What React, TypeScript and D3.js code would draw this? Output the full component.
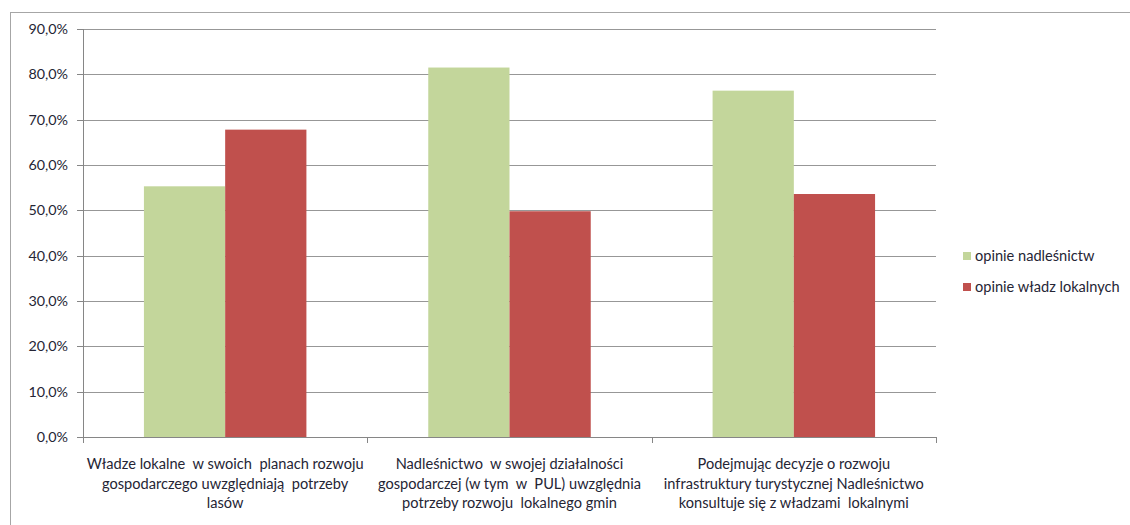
import React from "react";
import * as d3 from "d3";

const categories: string[][] = [
  ["Władze lokalne  w swoich  planach rozwoju", "gospodarczego uwzględniają  potrzeby", "lasów"],
  ["Nadleśnictwo  w swojej działalności", "gospodarczej (w tym  w  PUL) uwzględnia", "potrzeby rozwoju  lokalnego gmin"],
  ["Podejmując decyzje o rozwoju", "infrastruktury turystycznej Nadleśnictwo", "konsultuje się z władzami  lokalnymi"],
];
const seriesNames = ["opinie nadleśnictw", "opinie władz lokalnych"];
const seriesColors = ["#c3d69b", "#c0504d"];
const nadlesnictw = [55.3, 81.5, 76.4];
const wladz = [67.8, 49.8, 53.6];
const yTicks = [0, 10, 20, 30, 40, 50, 60, 70, 80, 90];

const W = 1130;
const H = 525;
const plot = { left: 83, right: 936, top: 29, bottom: 437 };
const FONT = "Lato, 'Open Sans', sans-serif";
const TEXT = "#252535";

export default function App() {
  const x0 = d3
    .scaleBand<number>()
    .domain(d3.range(categories.length))
    .range([plot.left, plot.right])
    .paddingInner(0)
    .paddingOuter(0);
  const x1 = d3
    .scaleBand<number>()
    .domain([0, 1])
    .range([0, x0.bandwidth()])
    .paddingOuter(0.75)
    .paddingInner(0);
  const y = d3.scaleLinear().domain([0, 90]).range([plot.bottom, plot.top]);
  const series = [nadlesnictw, wladz];
  const fmt = (v: number) => v.toFixed(1).replace(".", ",") + "%";

  return (
    <svg
      width={W}
      height={H}
      style={{ position: "absolute", left: 0, top: 0, display: "block", background: "#fff" }}
      fontFamily={FONT}
    >
      <rect x={10.5} y={12.5} width={W + 20} height={H + 20} fill="#fff" stroke="#a6a6a6" strokeWidth={1} />
      {/* gridlines */}
      {yTicks.map((t) => (
        <line
          key={"g" + t}
          x1={plot.left}
          x2={plot.right}
          y1={Math.round(y(t)) + 0.5}
          y2={Math.round(y(t)) + 0.5}
          stroke="#979797"
          strokeWidth={1.2}
        />
      ))}
      {/* bars */}
      {categories.map((_, ci) =>
        series.map((s, si) => (
          <rect
            key={ci + "-" + si}
            x={(x0(ci) as number) + (x1(si) as number)}
            y={y(s[ci])}
            width={x1.bandwidth()}
            height={plot.bottom - y(s[ci])}
            fill={seriesColors[si]}
          />
        ))
      )}
      {/* y axis */}
      <line x1={plot.left + 0.5} x2={plot.left + 0.5} y1={plot.top} y2={plot.bottom} stroke="#868686" />
      {yTicks.map((t) => (
        <g key={"t" + t}>
          <line
            x1={plot.left - 6}
            x2={plot.left}
            y1={Math.round(y(t)) + 0.5}
            y2={Math.round(y(t)) + 0.5}
            stroke="#868686"
          />
          <text
            x={plot.left - 15}
            y={y(t)}
            dy="0.35em"
            textAnchor="end"
            fontSize={14.3}
            fill={TEXT}
          >
            {fmt(t)}
          </text>
        </g>
      ))}
      {/* x axis */}
      <line x1={plot.left} x2={plot.right} y1={plot.bottom + 0.5} y2={plot.bottom + 0.5} stroke="#868686" />
      {d3.range(categories.length + 1).map((i) => {
        const xx = Math.round(plot.left + i * x0.bandwidth()) + 0.5;
        return <line key={"xt" + i} x1={xx} x2={xx} y1={plot.bottom} y2={plot.bottom + 6} stroke="#868686" />;
      })}
      {categories.map((lines, ci) => (
        <text
          key={"c" + ci}
          x={(x0(ci) as number) + x0.bandwidth() / 2}
          y={464}
          textAnchor="middle"
          fontSize={14.6}
          fill={TEXT}
          style={{ whiteSpace: "pre" }}
        >
          {lines.map((l, li) => (
            <tspan key={li} x={(x0(ci) as number) + x0.bandwidth() / 2} y={464 + li * 19.5} dy="0.35em">
              {l}
            </tspan>
          ))}
        </text>
      ))}
      {/* legend */}
      {seriesNames.map((n, i) => (
        <g key={"l" + i}>
          <rect x={963} y={252 + i * 31} width={8} height={8} fill={seriesColors[i]} />
          <text x={975} y={256 + i * 31} dy="0.35em" fontSize={14.6} fill={TEXT}>
            {n}
          </text>
        </g>
      ))}
    </svg>
  );
}
